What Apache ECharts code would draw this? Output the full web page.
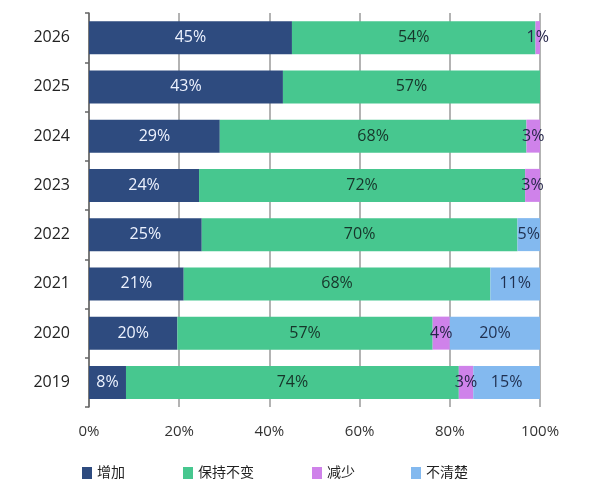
<!DOCTYPE html>
<html>
<head>
<meta charset="utf-8">
<script src="https://cdn.jsdelivr.net/npm/echarts@6/dist/echarts.min.js"></script>
<style>
  html, body { margin: 0; padding: 0; background: #fff; }
  #chart { width: 596px; height: 492px; }
</style>
</head>
<body>
<div id="chart"></div>
<script>
var years = ['2019', '2020', '2021', '2022', '2023', '2024', '2025', '2026'];
var xTicks = [0, 20, 40, 60, 80, 100];
var seriesNames = ['增加', '保持不变', '减少', '不清楚'];
// values; labels show them rounded
var increase = [8.2, 19.6, 21, 25, 24.4, 29, 43, 45];
var unchanged = [73.8, 56.6, 68, 70, 72.3, 68, 57, 54];
var decrease = [3.2, 3.8, 0, 0, 3.3, 3, 0, 1];
var unknown = [14.8, 20, 11, 5, 0, 0, 0, 0];

var colors = ['#2e4b7f', '#47c78f', '#cf82ea', '#83b9ef'];
var labelColors = ['#eef3ff', '#17352a', '#26264a', '#1f2f4f'];
var font = "'Open Sans', 'Noto Sans CJK SC', sans-serif";

function makeSeries(idx, data) {
    return {
        name: seriesNames[idx],
        type: 'bar',
        stack: 'all',
        barWidth: 33,
        data: data,
        itemStyle: { color: colors[idx] },
        label: {
            show: true,
            position: 'inside',
            color: labelColors[idx],
            fontSize: 16,
            fontFamily: font,
            formatter: function (p) {
                return p.value > 0 ? Math.round(p.value) + '%' : '';
            }
        }
    };
}

// four legends placed one by one, as in the picture
var legendLeft = [77, 178, 307, 406];
var legends = seriesNames.map(function (n, i) {
    return {
        data: [n],
        left: legendLeft[i],
        top: 461,
        itemWidth: 10,
        itemHeight: 12,
        itemGap: 6,
        icon: 'rect',
        textStyle: { fontSize: 14, color: '#222', fontFamily: font }
    };
});

var option = {
    animation: false,
    color: colors,
    grid: {
        left: 89,
        right: 56,
        top: 13,
        bottom: 85
    },
    legend: legends,
    xAxis: {
        type: 'value',
        min: 0,
        max: 100,
        interval: 20,
        axisLine: { show: false },
        axisTick: { show: false },
        axisLabel: {
            color: '#333',
            fontSize: 15,
            fontFamily: font,
            margin: 17,
            formatter: function (v) {
                return xTicks.indexOf(v) >= 0 ? v + '%' : '';
            }
        },
        splitLine: { show: true, lineStyle: { color: '#9a9a9a', width: 1.5 } }
    },
    yAxis: {
        type: 'category',
        data: years,
        axisLine: { show: true, lineStyle: { color: '#666', width: 1.5 } },
        axisTick: { show: true, length: 4, lineStyle: { color: '#666', width: 1.5 } },
        axisLabel: {
            color: '#222',
            fontSize: 16,
            fontFamily: font,
            margin: 19
        }
    },
    series: [
        makeSeries(0, increase),
        makeSeries(1, unchanged),
        makeSeries(2, decrease),
        makeSeries(3, unknown)
    ]
};

var myChart = echarts.init(document.getElementById('chart'));
myChart.setOption(option);
</script>
</body>
</html>
